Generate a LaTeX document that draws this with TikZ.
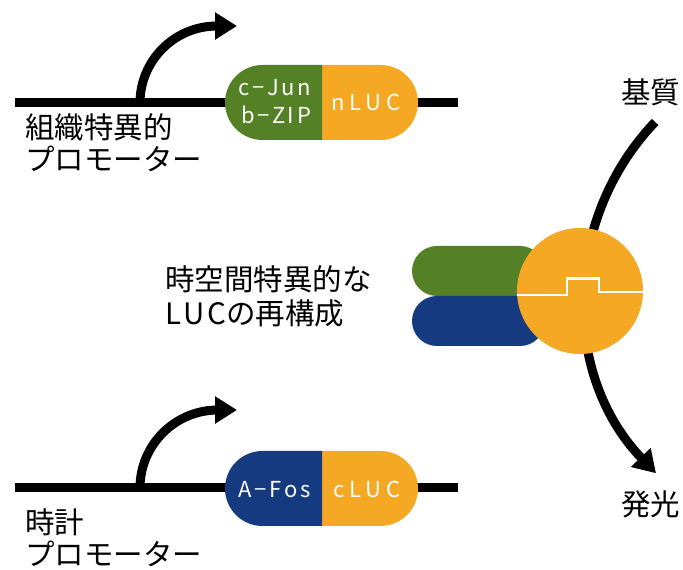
\documentclass[tikz,border=0pt]{standalone}
\usepackage{fontspec}
\setmainfont{Noto Sans CJK JP}
\newfontfamily\latsp[LetterSpace=22]{Noto Sans CJK JP}
\newfontfamily\latnarrow[LetterSpace=12]{Noto Sans CJK JP}
\newfontfamily\latluc[LetterSpace=10]{Noto Sans CJK JP}
\usetikzlibrary{arrows.meta}
\definecolor{cgreen}{RGB}{84,129,37}
\definecolor{corange}{RGB}{245,168,35}
\definecolor{cblue}{RGB}{21,58,128}
\tikzset{
  dna/.style={line width=9pt},
  tss/.style={line width=9pt,-{Triangle[length=22pt,width=26pt]}},
  lbl/.style={anchor=base west,inner sep=0pt,font=\fontsize{29.5}{29.5}\selectfont},
  captxt/.style={anchor=base,inner sep=0pt,text=white,font=\fontsize{22}{22}\latsp},
  captxtn/.style={anchor=base,inner sep=0pt,text=white,font=\fontsize{22}{22}\latnarrow},
  seam/.style={white,line width=2.5pt}
}
\begin{document}
\begin{tikzpicture}[x=1pt,y=1pt]
\useasboundingbox (0,0) rectangle (683,570);
% ---- top construct ----
\draw[dna] (15,467) coordinate (t1) -- (458,467) coordinate (t2);
\draw[tss] (140,467) coordinate (tp) arc (180:90:77) -- (237,544) coordinate (tt);
\fill[corange] (322,430) -- (380.5,430) arc (-90:90:37.5) -- (322,505) -- cycle;
\fill[cgreen] (322,430) -- (262.5,430) arc (270:90:37.5) -- (322,505) -- cycle;
\node[captxtn] (cjun) at (275,474) {c−Jun};
\node[captxtn] (bzip) at (276,446) {b−ZIP};
\node[captxt] (nluc) at (366,459) {nLUC};
\node[lbl] (tissue) at (25,431.5) {組織特異的};
\node[lbl] (prom1) at (25,399) {プロモーター};
% ---- bottom construct ----
\draw[dna] (15,82) coordinate (b1) -- (458,82) coordinate (b2);
\draw[tss] (140,82) coordinate (bp) arc (180:90:78) -- (237,160) coordinate (bt);
\fill[corange] (322,44) -- (380.5,44) arc (-90:90:37.5) -- (322,119) -- cycle;
\fill[cblue] (322,44) -- (262.5,44) arc (270:90:37.5) -- (322,119) -- cycle;
\node[captxtn] (afos) at (274.5,72) {A−Fos};
\node[captxt] (cluc) at (367,72) {cLUC};
\node[lbl] (clock) at (25,36) {時計};
\node[lbl] (prom2) at (25,4) {プロモーター};
% ---- reconstituted LUC ----
\draw[tss] (655.1,448) arc (136.4:223.9:254) coordinate (light);
\fill[cgreen, rounded corners=25pt] (412,274) rectangle (545,324);
\fill[cblue, rounded corners=25pt] (412,224) rectangle (545,274);
\fill[corange] (580,279) circle (63);
\begin{scope}
  \clip (580,279) circle (63);
  \draw[seam] (510,275) -- (567,275) -- (567,291.5) -- (599,291.5) -- (599,278) -- (650,278);
\end{scope}
\node[lbl] (spatio) at (165,279) {時空間特異的な};
\node[lbl] (recon) at (165,245) {{\latluc LUC}の再構成};
\node[lbl] (subst) at (621,466.5) {基質};
\node[lbl] (lum) at (621,54.5) {発光};
\end{tikzpicture}
\end{document}
